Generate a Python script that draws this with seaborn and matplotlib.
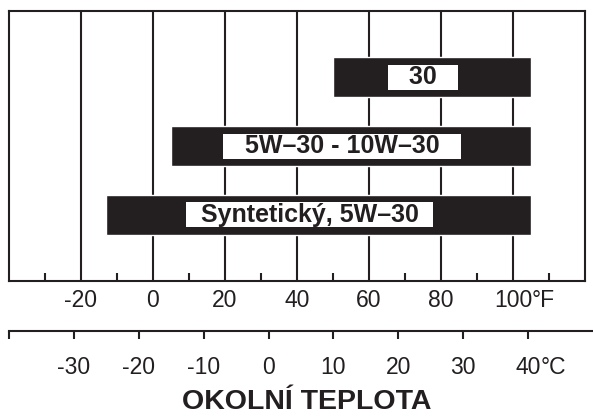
import matplotlib
matplotlib.use("Agg")
import matplotlib.pyplot as plt
import seaborn as sns

# oil grades and their temperature ranges (deg F)
oils = ["   30   ", "   5W–30 - 10W–30   ", "  Syntetický, 5W–30  "]
temp_from_f = [50, 5, -13]
temp_to_f = [105, 105, 105]

f_ticks = [-20, 0, 20, 40, 60, 80, 100]
f_labels = ["-20", "0", "20", "40", "60", "80", "100"]
f_minor = [-30, -10, 10, 30, 50, 70, 90, 110]
c_ticks = [-40, -30, -20, -10, 0, 10, 20, 30, 40]
c_labels = ["", "-30", "-20", "-10", "0", "10", "20", "30", "40"]

ink = "#231f20"

sns.set_style("white")
plt.rcParams["font.family"] = ["Liberation Sans", "DejaVu Sans"]

W, H = 593, 417
fig = plt.figure(figsize=(W / 100, H / 100), dpi=100)

# main chart (Fahrenheit)
ax = fig.add_axes([9 / W, 1 - 281 / H, 576 / W, 270 / H])
pos = list(range(len(oils)))
widths = [e - s for s, e in zip(temp_from_f, temp_to_f)]
ax.barh(pos, widths, left=temp_from_f, height=0.58, color=ink, zorder=3)

for i, (s, e, name) in enumerate(zip(temp_from_f, temp_to_f, oils)):
    ax.text((s + e) / 2 - 2.5, i, name, ha="center", va="center",
            fontsize=18, fontweight="bold", color=ink, zorder=4,
            bbox=dict(facecolor="white", edgecolor="none", boxstyle="square,pad=0.02"))

ax.set_xlim(-40, 120)
ax.set_ylim(2.957, -0.957)
ax.set_yticks([])
ax.set_xticks(f_ticks)
ax.set_xticklabels(f_labels)
ax.set_xticks(f_minor, minor=True)
ax.grid(axis="x", which="major", color=ink, lw=1.5)
ax.set_axisbelow(True)
ax.tick_params(axis="x", which="major", bottom=True, length=0, pad=6,
               labelsize=16.5, labelcolor=ink)
ax.tick_params(axis="x", which="minor", bottom=True, direction="in", length=6,
               width=1.5, color=ink)
for sp in ax.spines.values():
    sp.set_visible(True)
    sp.set_color(ink)
    sp.set_linewidth(1.5)

# Celsius scale
cax = fig.add_axes([9 / W, 1 - 331 / H, 584 / W, 0.0001])
cax.set_facecolor("none")
cax.set_xlim(-40, 50)
cax.set_yticks([])
cax.set_xticks(c_ticks)
cax.set_xticklabels(c_labels)
cax.tick_params(axis="x", bottom=True, direction="out", length=6, width=1.5, color=ink,
                pad=12, labelsize=16.5, labelcolor=ink)
for name, sp in cax.spines.items():
    sp.set_visible(name == "bottom")
    sp.set_color(ink)
    sp.set_linewidth(1.5)

fig.canvas.draw()
ax.annotate("°F", xy=(1, 0), xycoords=ax.get_xticklabels()[-1], ha="left", va="bottom",
            fontsize=16.5, color=ink)
cax.annotate("°C", xy=(1, 0), xycoords=cax.get_xticklabels()[-1], ha="left", va="bottom",
             fontsize=16.5, color=ink)

fig.text(307 / W, 1 - 402 / H, "OKOLNÍ TEPLOTA", ha="center", va="center",
         fontsize=20.5, fontweight="bold", color=ink)

fig.savefig("out.png", dpi=100)
